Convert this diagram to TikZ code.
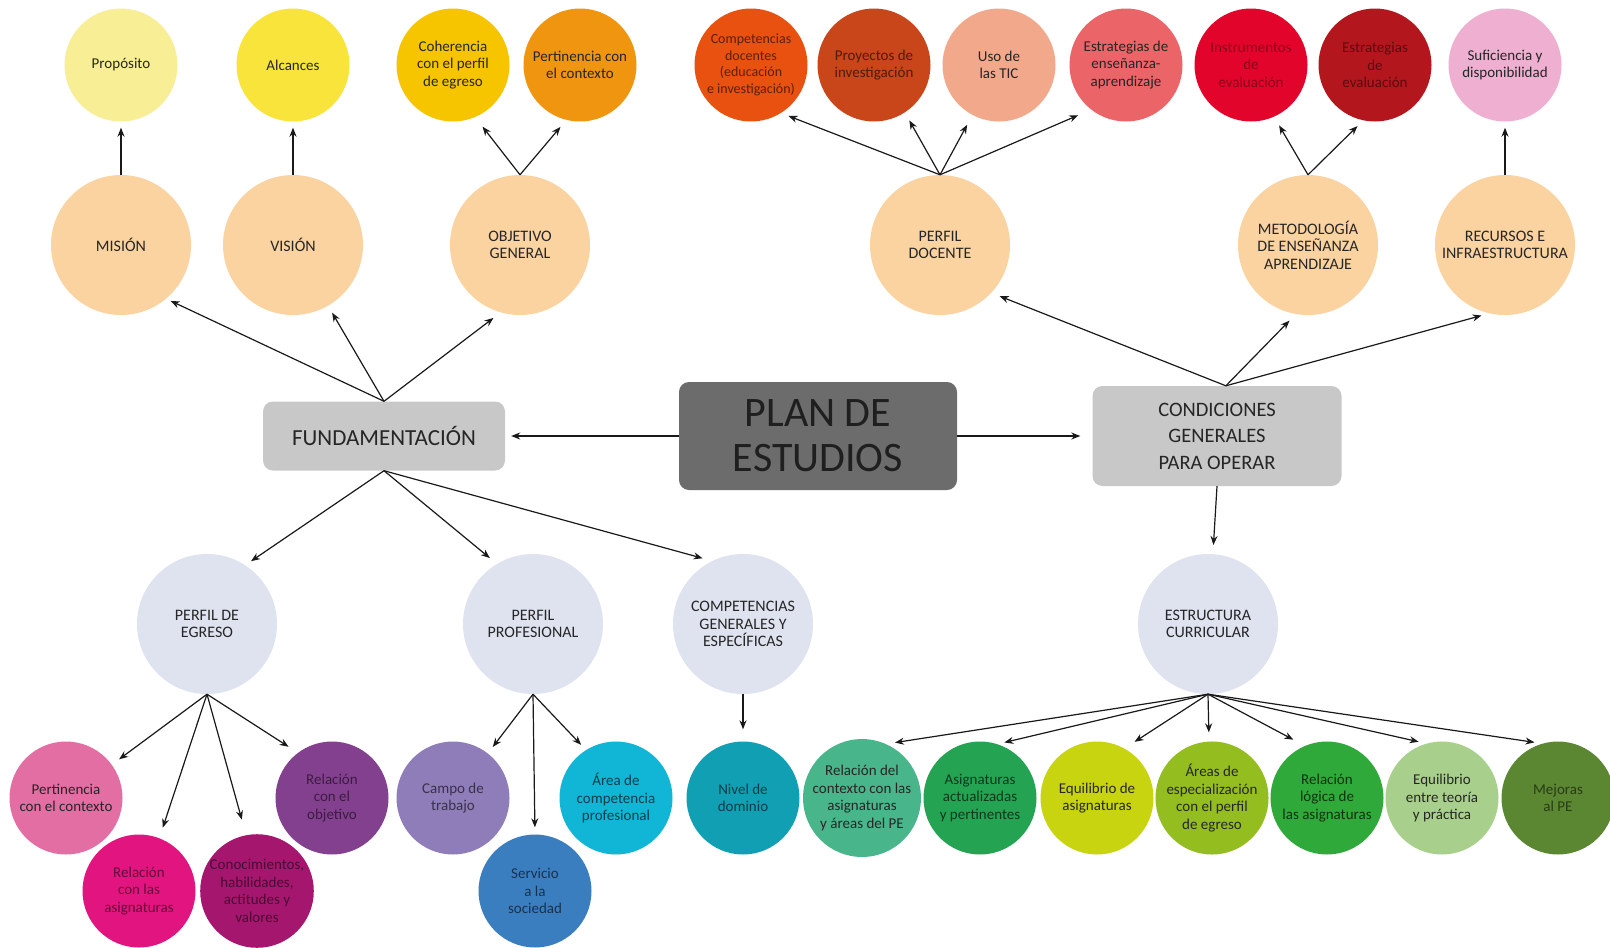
\documentclass[tikz,border=0pt]{standalone}
\usepackage{fontspec}
\setmainfont{Carlito}
\usetikzlibrary{arrows.meta}
\definecolor{cPropo}{HTML}{F8EE96}
\definecolor{cAlc}{HTML}{F9E43C}
\definecolor{cCoh}{HTML}{F6C500}
\definecolor{cPert}{HTML}{F0950F}
\definecolor{cPeach}{HTML}{FAD3A1}
\definecolor{cComp}{HTML}{E8510F}
\definecolor{cProy}{HTML}{C8461A}
\definecolor{cTic}{HTML}{F2A88A}
\definecolor{cEstEA}{HTML}{EB6468}
\definecolor{cInst}{HTML}{E2042B}
\definecolor{cEstEv}{HTML}{B3171D}
\definecolor{cSuf}{HTML}{EEAFD0}
\definecolor{cBox}{HTML}{C8C8C8}
\definecolor{cPlan}{HTML}{6D6C6D}
\definecolor{cBlue}{HTML}{DEE3EF}
\definecolor{cPctx}{HTML}{E26EA3}
\definecolor{cRasig}{HTML}{E2147F}
\definecolor{cConoc}{HTML}{A5176F}
\definecolor{cRobj}{HTML}{83408F}
\definecolor{cCampo}{HTML}{8E7DB8}
\definecolor{cServ}{HTML}{3B7EC0}
\definecolor{cArea}{HTML}{11B5D6}
\definecolor{cNivel}{HTML}{109FB3}
\definecolor{cRctx}{HTML}{49B58B}
\definecolor{cAsig}{HTML}{24A353}
\definecolor{cEquil}{HTML}{C9D410}
\definecolor{cAresp}{HTML}{94BD1F}
\definecolor{cRlog}{HTML}{2FA93A}
\definecolor{cEteo}{HTML}{A8D08C}
\definecolor{cMej}{HTML}{5B8632}
\begin{document}
\begin{tikzpicture}[x=1pt,y=-1pt,
  sm/.style={circle,minimum size=113pt,inner sep=0pt,align=center,
    font=\fontsize{15}{17.5}\selectfont,text=black!85},
  bg/.style={circle,minimum size=140pt,inner sep=0pt,align=center,
    font=\fontsize{16}{17.5}\selectfont,text=black!85},
  boxnode/.style={rectangle,rounded corners=10pt,inner sep=0pt,align=center,text=black!85},
  arr/.style={-{Stealth[length=9pt,width=7pt]},line width=1.2pt,black!90}]
\fill[white] (0,0) rectangle (1610,948);
\useasboundingbox (0,0) rectangle (1610,948);

% top row
\node[sm,fill=cPropo] (propo) at (121,65) {Propósito};
\node[sm,fill=cAlc] (alc) at (293,65) {Alcances};
\node[sm,fill=cCoh] (coh) at (453,65) {Coherencia\\con el perfil\\de egreso};
\node[sm,fill=cPert] (pert) at (580,65) {Pertinencia con\\el contexto};
\node[sm,fill=cComp,font=\fontsize{14}{16.5}\selectfont,text=cComp!40!black] (compdoc) at (751,65) {Competencias\\docentes\\(educación\\e investigación)};
\node[sm,fill=cProy,text=cProy!40!black] (proy) at (874,65) {Proyectos de\\investigación};
\node[sm,fill=cTic] (tic) at (999,65) {Uso de\\las TIC};
\node[sm,fill=cEstEA] (estea) at (1126,65) {Estrategias de\\enseñanza-\\aprendizaje};
\node[sm,fill=cInst,text=cInst!60!black] (inst) at (1251,65) {Instrumentos\\de\\evaluación};
\node[sm,fill=cEstEv,text=cEstEv!50!black] (esteval) at (1375,65) {Estrategias\\de\\evaluación};
\node[sm,fill=cSuf] (suf) at (1505,65) {Suficiencia y\\disponibilidad};

% second row
\node[bg,fill=cPeach] (mision) at (121,245) {MISIÓN};
\node[bg,fill=cPeach] (vision) at (293,245) {VISIÓN};
\node[bg,fill=cPeach] (obj) at (520,245) {OBJETIVO\\GENERAL};
\node[bg,fill=cPeach] (pdoc) at (940,245) {PERFIL\\DOCENTE};
\node[bg,fill=cPeach] (metod) at (1308,245) {METODOLOGÍA\\DE ENSEÑANZA\\APRENDIZAJE};
\node[bg,fill=cPeach] (recur) at (1505,245) {RECURSOS E\\INFRAESTRUCTURA};

% boxes
\node[boxnode,fill=cBox,minimum width=242pt,minimum height=69pt,font=\fontsize{23}{27}\selectfont] (fund) at (384,436) {FUNDAMENTACIÓN};
\node[boxnode,fill=cPlan,minimum width=278pt,minimum height=108pt,font=\fontsize{42}{45}\selectfont,text=black!88] (plan) at (818,436) {PLAN DE\\ESTUDIOS};
\node[boxnode,fill=cBox,minimum width=249pt,minimum height=100pt,font=\fontsize{20.5}{26.5}\selectfont] (cond) at (1217,436) {CONDICIONES\\GENERALES\\PARA OPERAR};

% third row
\node[bg,fill=cBlue] (pegr) at (207,624) {PERFIL DE\\EGRESO};
\node[bg,fill=cBlue] (pprof) at (533,624) {PERFIL\\PROFESIONAL};
\node[bg,fill=cBlue] (compg) at (743,624) {COMPETENCIAS\\GENERALES Y\\ESPECÍFICAS};
\node[bg,fill=cBlue] (estr) at (1208,624) {ESTRUCTURA\\CURRICULAR};

% bottom row
\node[sm,fill=cPctx] (pctx) at (66,798) {Pertinencia\\con el contexto};
\node[sm,fill=cRasig,text=cRasig!45!black] (rasig) at (139,891) {Relación\\con las\\asignaturas};
\node[sm,fill=cConoc,text=cConoc!45!black] (conoc) at (257,891) {Conocimientos,\\habilidades,\\actitudes y\\valores};
\node[sm,fill=cRobj,text=cRobj!45!black] (robj) at (332,798) {Relación\\con el\\objetivo};
\node[sm,fill=cCampo,text=cCampo!40!black] (campo) at (453,798) {Campo de\\trabajo};
\node[sm,fill=cServ,text=cServ!40!black] (serv) at (535,891) {Servicio\\a la\\sociedad};
\node[sm,fill=cArea,text=cArea!35!black] (area) at (616,798) {Área de\\competencia\\profesional};
\node[sm,fill=cNivel,text=cNivel!40!black] (nivel) at (743,798) {Nivel de\\dominio};
\node[sm,fill=cRctx] (rctx) at (862,798) {Relación del\\contexto con las\\asignaturas\\y áreas del PE};
\node[sm,fill=cAsig,text=cAsig!35!black] (asig) at (980,798) {Asignaturas\\actualizadas\\y pertinentes};
\node[sm,fill=cEquil] (equil) at (1097,798) {Equilibrio de\\asignaturas};
\node[sm,fill=cAresp] (aresp) at (1212,798) {Áreas de\\especialización\\con el perfil\\de egreso};
\node[sm,fill=cRlog,text=cRlog!30!black] (rlog) at (1327,798) {Relación\\lógica de\\las asignaturas};
\node[sm,fill=cEteo] (eteo) at (1442,798) {Equilibrio\\entre teoría\\y práctica};
\node[sm,fill=cMej,text=cMej!45!black] (mej) at (1558,798) {Mejoras\\al PE};

% connectors
\draw[arr,shorten >=5pt] (fund.north) -- (mision.-50);
\draw[arr,shorten >=8pt] (fund.north) -- (vision.-60);
\draw[arr,shorten >=9pt] (fund.north) -- (obj.-106);
\draw[arr,shorten >=6pt] (mision.north) -- (propo.south);
\draw[arr,shorten >=6pt] (vision.north) -- (alc.south);
\draw[arr,shorten >=12pt] (obj.north) -- (coh.-67);
\draw[arr,shorten >=9pt] (obj.north) -- (pert.-104);
\draw[arr,shorten >=6pt] (plan.west) -- (fund.east);
\draw[arr,shorten >=12pt] (plan.east) -- (cond.west);
\draw[arr,shorten >=9pt] (cond.80) -- (pdoc.-43);
\draw[arr,shorten >=9pt] (cond.80) -- (metod.-100);
\draw[arr,shorten >=8pt] (cond.80) -- (recur.-103);
\draw[arr,shorten >=8pt] (pdoc.north) -- (compdoc.-58);
\draw[arr,shorten >=9pt] (pdoc.north) -- (proy.-57);
\draw[arr,shorten >=11pt] (pdoc.north) -- (tic.-118);
\draw[arr,shorten >=14pt] (pdoc.north) -- (estea.-128);
\draw[arr,shorten >=10pt] (metod.north) -- (inst.-66);
\draw[arr,shorten >=8pt] (metod.north) -- (esteval.-102);
\draw[arr,shorten >=6pt] (recur.north) -- (suf.south);
\draw[arr,shorten >=9pt] (cond.south) -- (estr.86);
\draw[arr,shorten >=7pt] (fund.south) -- (pegr.57);
\draw[arr,shorten >=9pt] (fund.south) -- (pprof.121);
\draw[arr,shorten >=10pt] (fund.south) -- (compg.116);
\draw[arr,shorten >=9pt] (pegr.south) -- (pctx.36);
\draw[arr,shorten >=11pt] (pegr.south) -- (rasig.69);
\draw[arr,shorten >=16pt] (pegr.south) -- (conoc.101);
\draw[arr,shorten >=11pt] (pegr.south) -- (robj.127);
\draw[arr,shorten >=8pt] (pprof.south) -- (campo.52);
\draw[arr,shorten >=7pt] (pprof.south) -- (serv.north);
\draw[arr,shorten >=7pt] (pprof.south) -- (area.122);
\draw[arr,shorten >=12pt] (compg.south) -- (nivel.north);
\draw[arr,shorten >=9pt] (estr.south) -- (rctx.66);
\draw[arr,shorten >=7pt] (estr.south) -- (asig.72);
\draw[arr,shorten >=12pt] (estr.south) -- (equil.61);
\draw[arr,shorten >=9pt] (estr.south) -- (aresp.93);
\draw[arr,shorten >=13pt] (estr.south) -- (rlog.113);
\draw[arr,shorten >=8pt] (estr.south) -- (eteo.106);
\draw[arr,shorten >=8pt] (estr.south) -- (mej.106);
\end{tikzpicture}
\end{document}
